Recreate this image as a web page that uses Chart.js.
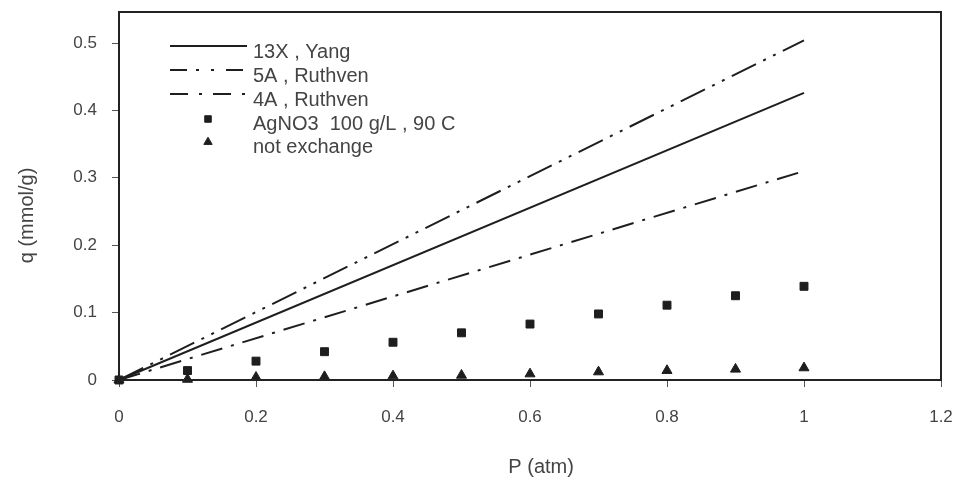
<!DOCTYPE html>
<html lang="en">
<head>
    <meta charset="UTF-8">
    <title>Adsorption isotherms</title>
    <script src="https://cdn.jsdelivr.net/npm/chart.js"></script>
    <style>
        body {
            margin: 0;
            background-color: #fff;
        }
        .chart-box {
            width: 958px;
            height: 484px;
        }
    </style>
</head>
<body>
    <div class="chart-box">
        <canvas id="isoChart"></canvas>
    </div>

    <script>
        // Data
        const seriesNames = ['13X , Yang', '5A , Ruthven', '4A , Ruthven', 'AgNO3  100 g/L , 90 C', 'not exchange'];

        // model lines, end points only
        const lineP = [0, 1];
        const yang13X = [0, 0.426];
        const ruthven5A = [0, 0.504];
        const ruthven4A = [0, 0.310];

        // measured points
        const pressure = [0, 0.1, 0.2, 0.3, 0.4, 0.5, 0.6, 0.7, 0.8, 0.9, 1.0];
        const agno3 = [0, 0.014, 0.028, 0.042, 0.056, 0.070, 0.083, 0.098, 0.111, 0.125, 0.139];
        const notExchange = [0, 0.001, 0.004, 0.005, 0.006, 0.007, 0.009, 0.012, 0.014, 0.016, 0.018];

        const xTicks = [0, 0.2, 0.4, 0.6, 0.8, 1, 1.2];
        const yTicks = [0, 0.1, 0.2, 0.3, 0.4, 0.5];

        const ink = '#1e1e1e';
        const textGray = '#444';
        const fontFam = '"Liberation Sans", Arial, sans-serif';

        function pts(xs, ys) {
            return xs.map((x, i) => ({ x: x, y: ys[i] }));
        }

        function lineSet(label, ys, dash) {
            return {
                label: label,
                data: pts(lineP, ys),
                showLine: true,
                borderColor: ink,
                borderWidth: 2,
                borderDash: dash,
                pointRadius: 0,
                clip: false
            };
        }

        function markSet(label, ys, style, r) {
            return {
                label: label,
                data: pts(pressure, ys),
                showLine: false,
                pointStyle: style,
                pointRadius: r,
                backgroundColor: ink,
                borderColor: ink,
                borderWidth: 1,
                clip: false
            };
        }

        // frame round the plot + legend inside it
        const framePlugin = {
            id: 'frame',
            afterDatasetsDraw(chart) {
                const { ctx, chartArea: a } = chart;
                ctx.save();
                ctx.strokeStyle = '#222';
                ctx.lineWidth = 2;
                ctx.strokeRect(a.left, a.top, a.right - a.left, a.bottom - a.top);

                // legend
                const x0 = 170, x1 = 247, tx = 253;
                const rows = [52, 76, 100, 124, 147];
                ctx.font = '20px ' + fontFam;
                ctx.textBaseline = 'middle';
                ctx.textAlign = 'left';
                chart.data.datasets.forEach((ds, i) => {
                    const y = rows[i];
                    if (ds.showLine) {
                        ctx.strokeStyle = ds.borderColor;
                        ctx.lineWidth = ds.borderWidth;
                        ctx.setLineDash(ds.legendDash || ds.borderDash || []);
                        ctx.beginPath();
                        ctx.moveTo(x0, y - 6);
                        ctx.lineTo(x1, y - 6);
                        ctx.stroke();
                        ctx.setLineDash([]);
                    } else {
                        ctx.fillStyle = ds.backgroundColor;
                        ctx.strokeStyle = ds.borderColor;
                        ctx.lineWidth = 1;
                        Chart.helpers.drawPoint(ctx, { pointStyle: ds.pointStyle, radius: ds.pointRadius - 1, borderWidth: 1 }, 208, y - 5);
                    }
                    ctx.fillStyle = textGray;
                    ctx.fillText(ds.label, tx, y);
                });
                ctx.restore();
            }
        };

        const s5A = lineSet(seriesNames[1], ruthven5A, [27, 8, 3, 8, 3, 8]);
        s5A.legendDash = [17, 9, 3, 12, 3, 12];
        const s4A = lineSet(seriesNames[2], ruthven4A, [22, 9, 3, 9]);
        s4A.legendDash = [18, 11, 3, 11];

        const fmt = v => String(+Number(v).toFixed(2));

        new Chart(document.getElementById('isoChart'), {
            type: 'scatter',
            data: {
                datasets: [
                    lineSet(seriesNames[0], yang13X, []),
                    s5A,
                    s4A,
                    markSet(seriesNames[3], agno3, 'rect', 5.6),
                    markSet(seriesNames[4], notExchange, 'triangle', 5.8)
                ]
            },
            options: {
                responsive: true,
                maintainAspectRatio: false,
                animation: false,
                layout: { padding: { top: 12, right: 17, bottom: 0, left: 0 } },
                plugins: {
                    legend: { display: false },
                    tooltip: { enabled: false }
                },
                scales: {
                    x: {
                        type: 'linear',
                        min: xTicks[0],
                        max: xTicks[xTicks.length - 1],
                        afterFit: s => { s.height = 104; s.paddingLeft = 0; s.paddingRight = 0; },
                        afterBuildTicks: s => { s.ticks = xTicks.map(v => ({ value: v })); },
                        border: { display: false },
                        grid: { drawOnChartArea: false, tickLength: 7, color: '#555', lineWidth: 1 },
                        ticks: { color: textGray, padding: 20, font: { family: fontFam, size: 17 }, callback: fmt },
                        title: {
                            display: true,
                            // leading spaces nudge the title right like the original
                            text: '    P (atm)',
                            color: textGray,
                            padding: { top: 0, bottom: 5 },
                            font: { family: fontFam, size: 20 }
                        }
                    },
                    y: {
                        type: 'linear',
                        min: 0,
                        max: 0.546,
                        afterFit: s => { s.width = 119; s.paddingTop = 0; s.paddingBottom = 0; },
                        afterBuildTicks: s => { s.ticks = yTicks.map(v => ({ value: v })); },
                        border: { display: false },
                        grid: { drawOnChartArea: false, tickLength: 7, color: '#555', lineWidth: 1 },
                        ticks: { color: textGray, padding: 15, font: { family: fontFam, size: 17 }, callback: fmt },
                        title: {
                            display: true,
                            // trailing spaces push the rotated title down a bit
                            text: 'q (mmol/g)       ',
                            color: textGray,
                            padding: { top: 15, bottom: 0 },
                            font: { family: fontFam, size: 20 }
                        }
                    }
                }
            },
            plugins: [framePlugin]
        });
    </script>
</body>
</html>
